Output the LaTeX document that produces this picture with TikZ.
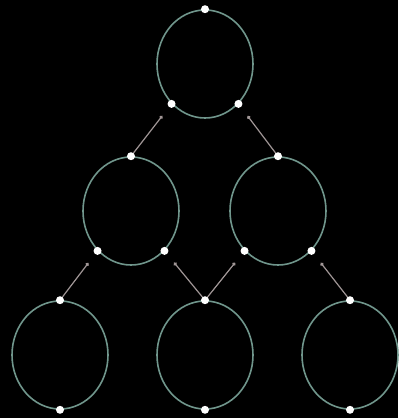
\documentclass[tikz,border=0pt]{standalone}
\usepackage{tikz}
\usetikzlibrary{arrows.meta,shapes.geometric}

\definecolor{ringc}{RGB}{112,150,140}
\definecolor{linkc}{RGB}{160,150,150}

\begin{document}
\begin{tikzpicture}[x=1pt, y=-1pt,
  ring/.style={ellipse, draw=ringc, line width=1.6pt, minimum width=96pt, minimum height=108pt, inner sep=0pt},
  dot/.style={circle, fill=white, minimum size=8pt, inner sep=0pt},
  link/.style={draw=linkc, line width=1.2pt, -{Circle[length=3.5pt]}, shorten >=11pt}
]
  \fill[black] (0,0) rectangle (398,418);

  % rings
  \foreach \n/\x/\y in {t/205/64, l/131/211, r/278/211, a/60/355, b/205/355, c/350/355}
    \node[ring] (\n) at (\x,\y) {};

  % dots
  \foreach \n in {t,l,r,a,b,c}
    \node[dot] (\n n) at (\n.north) {};
  \foreach \n in {t,l,r} {
    \node[dot] (\n l) at (\n.230) {};
    \node[dot] (\n r) at (\n.310) {};
  }
  \foreach \n in {a,b,c}
    \node[dot] (\n s) at (\n.south) {};

  % links
  \foreach \u/\v in {ln/tl, rn/tr, an/ll, bn/lr, bn/rl, cn/rr}
    \draw[link] (\u) -- (\v);
\end{tikzpicture}
\end{document}
